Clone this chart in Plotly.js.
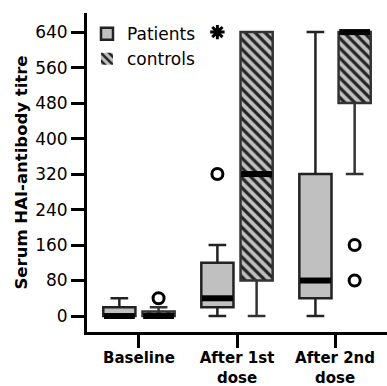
<!DOCTYPE html>
<html>
<head>
<meta charset="utf-8">
<script src="https://cdn.plot.ly/plotly-3.0.1.min.js"></script>
<style>html,body{margin:0;padding:0;background:#fff;}#chart{width:387px;height:386px;}</style>
</head>
<body>
<div id="chart"></div>
<script>
// ---- data ----
var categories = ["Baseline", "After 1st<br>dose", "After 2nd<br>dose"];
var catIndex = [0, 1, 2];
var yTicks = [0, 80, 160, 240, 320, 400, 480, 560, 640];

var patientsQ1 = [0, 20, 40];
var patientsMedian = [0, 40, 80];
var patientsQ3 = [20, 120, 320];
var patientsLow = [0, 0, 0];
var patientsHigh = [40, 160, 640];

var controlsQ1 = [0, 80, 480];
var controlsMedian = [0, 320, 640];
var controlsQ3 = [10, 640, 640];
var controlsLow = [0, 0, 320];
var controlsHigh = [20, 640, 640];

// outliers: category index and value
var patientsOutCat = [1];
var patientsOutVal = [320];
var patientsExtremeCat = [1];
var patientsExtremeVal = [640];
var controlsOutCat = [0, 2, 2];
var controlsOutVal = [40, 160, 80];

// ---- layout constants ----
var boxGap = 0.2, boxGroupGap = 0.18;
var slotOffset = 0.25 * (1 - boxGap);                 // centre offset of each group member
var halfW = 0.25 * (1 - boxGap) * (1 - boxGroupGap);  // half box width
function shift(arr, d) { return arr.map(function (v) { return v + d; }); }

var fontFam = "DejaVu Sans, sans-serif";
var grey = "#c0c0c0";

var traces = [
  {
    type: "box", name: "Patients", x: catIndex,
    offsetgroup: "p", alignmentgroup: "a",
    q1: patientsQ1, median: patientsMedian, q3: patientsQ3,
    lowerfence: patientsLow, upperfence: patientsHigh,
    fillcolor: grey, line: {color: "#222", width: 2.5},
    whiskerwidth: 0.55, boxpoints: false, hoverinfo: "skip"
  },
  {
    type: "bar", name: "controls", x: catIndex,
    base: controlsQ1,
    y: controlsQ3.map(function (v, i) { return v - controlsQ1[i]; }),
    offset: slotOffset - halfW, width: 2 * halfW,
    marker: {color: grey, line: {width: 0},
      pattern: {shape: "\\", fgcolor: "#222", bgcolor: grey, size: 7, solidity: 0.45}},
    hoverinfo: "skip"
  },
  {
    type: "box", name: "controls", x: catIndex, showlegend: false,
    offsetgroup: "c", alignmentgroup: "a",
    q1: controlsQ1, median: controlsMedian, q3: controlsQ3,
    lowerfence: controlsLow, upperfence: controlsHigh,
    fillcolor: "rgba(0,0,0,0)", line: {color: "#333", width: 2.5},
    whiskerwidth: 0.55, boxpoints: false, hoverinfo: "skip"
  },
  {
    type: "scatter", mode: "markers", showlegend: false, hoverinfo: "skip",
    x: shift(catIndex, -slotOffset), y: patientsMedian,
    marker: {symbol: "line-ew-open", size: 22, color: "#000", line: {color: "#000", width: 6}}
  },
  {
    type: "scatter", mode: "markers", showlegend: false, hoverinfo: "skip",
    x: shift(catIndex, slotOffset), y: controlsMedian,
    marker: {symbol: "line-ew-open", size: 22, color: "#000", line: {color: "#000", width: 6}}
  },
  {
    type: "scatter", mode: "markers", showlegend: false, hoverinfo: "skip",
    x: shift(patientsOutCat, -slotOffset), y: patientsOutVal,
    marker: {symbol: "circle-open", size: 11, color: "#000", line: {color: "#000", width: 3}}
  },
  {
    type: "scatter", mode: "markers", showlegend: false, hoverinfo: "skip",
    x: shift(patientsExtremeCat, -slotOffset), y: patientsExtremeVal,
    marker: {symbol: "asterisk-open", size: 12, color: "#000", line: {color: "#000", width: 3}}
  },
  {
    type: "scatter", mode: "markers", showlegend: false, hoverinfo: "skip",
    x: shift(controlsOutCat, slotOffset), y: controlsOutVal,
    marker: {symbol: "circle-open", size: 11, color: "#000", line: {color: "#000", width: 3}}
  }
];

var layout = {
  width: 387, height: 386,
  margin: {l: 87, r: 0, t: 13, b: 54, pad: 0},
  paper_bgcolor: "#fff", plot_bgcolor: "#fff",
  boxmode: "group", boxgap: boxGap, boxgroupgap: boxGroupGap,
  barmode: "overlay",
  font: {family: fontFam, color: "#000", size: 15},
  xaxis: {
    type: "linear", range: [-0.53, 2.53],
    tickvals: catIndex, ticktext: categories,
    showgrid: false, zeroline: false,
    showline: true, linecolor: "#000", linewidth: 3,
    ticks: "outside", ticklen: 13, tickwidth: 3, tickcolor: "#000",
    ticklabelstandoff: -3,
    tickfont: {family: fontFam, size: 15, weight: "bold"}
  },
  yaxis: {
    range: [-36, 683], tickvals: yTicks,
    showgrid: false, zeroline: false,
    showline: true, linecolor: "#000", linewidth: 3,
    ticks: "outside", ticklen: 13, tickwidth: 3, tickcolor: "#000",
    tickfont: {family: fontFam, size: 17},
    title: {text: "Serum HAI-antibody titre", font: {family: fontFam, size: 16.5, weight: "bold"}, standoff: 4}
  },
  legend: {
    x: 0, y: 0.99, xanchor: "left", yanchor: "top",
    bgcolor: "rgba(0,0,0,0)", font: {family: fontFam, size: 17},
    traceorder: "normal"
  },
  showlegend: true
};

Plotly.newPlot("chart", traces, layout, {displayModeBar: false, staticPlot: true});
</script>
</body>
</html>
